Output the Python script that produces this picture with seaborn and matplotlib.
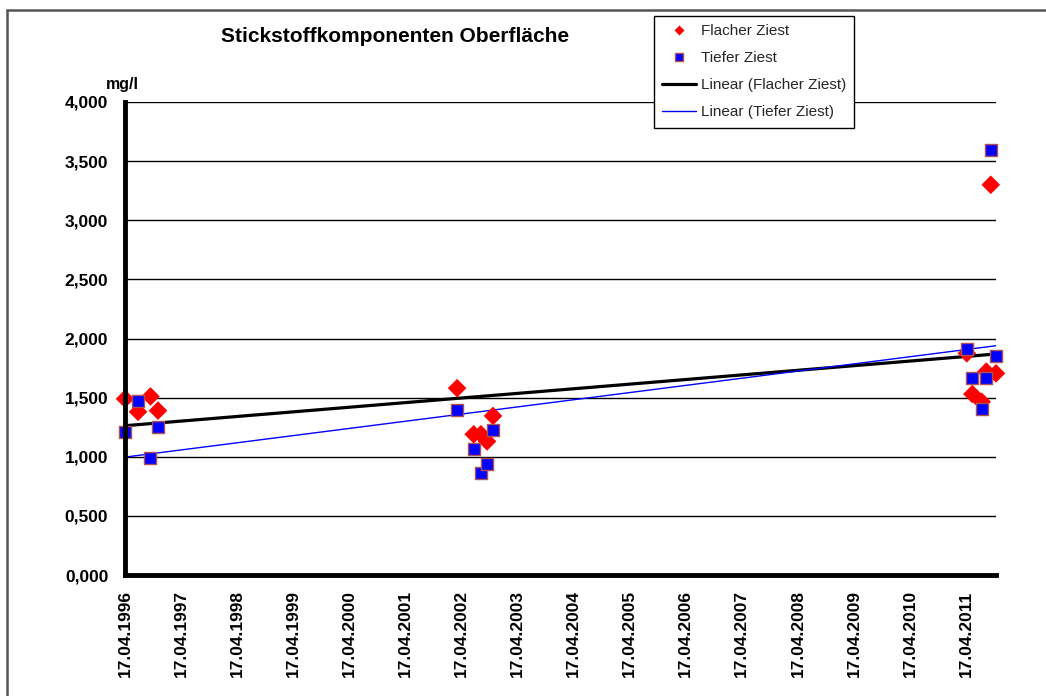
import numpy as np
import pandas as pd
import matplotlib
matplotlib.use("Agg")
import matplotlib.pyplot as plt
import matplotlib.dates as mdates
from matplotlib.lines import Line2D
import seaborn as sns

# ---- data ----
dates = ["1996-04-17", "1996-07-11", "1996-09-30", "1996-11-18",
         "2002-03-20", "2002-07-06", "2002-08-22", "2002-10-01", "2002-11-09",
         "2011-04-22", "2011-05-28", "2011-07-28", "2011-08-27", "2011-09-25", "2011-10-29"]
flacher = [1.49, 1.38, 1.51, 1.39,
           1.58, 1.19, 1.19, 1.13, 1.345,
           1.875, 1.53, 1.465, 1.72, 3.30, 1.705]
tiefer = [1.21, 1.47, 0.99, 1.25,
          1.395, 1.065, 0.86, 0.935, 1.225,
          1.915, 1.665, 1.405, 1.67, 3.595, 1.855]
tick_years = list(range(1996, 2012))
y_ticks = [0, 0.5, 1.0, 1.5, 2.0, 2.5, 3.0, 3.5, 4.0]

df = pd.DataFrame({"Datum": pd.to_datetime(dates),
                   "Flacher Ziest": flacher,
                   "Tiefer Ziest": tiefer})

# linear trend lines (like Excel's "Linear" trendline)
xnum = mdates.date2num(df["Datum"])
for col in ["Flacher Ziest", "Tiefer Ziest"]:
    k, d = np.polyfit(xnum, df[col], 1)
    df["Linear (" + col + ")"] = k * xnum + d

sns.set_theme(style="white")
plt.rcParams["font.family"] = ["Liberation Sans", "DejaVu Sans"]
plt.rcParams["font.weight"] = "bold"

W, H = 1046, 696
fig = plt.figure(figsize=(W / 100, H / 100), dpi=100)
ax = fig.add_axes([125 / W, 1 - 575 / H, (996 - 125) / W, (575 - 102) / H])

# gridlines
for v in y_ticks[1:]:
    ax.axhline(v, color="black", lw=1.0, zorder=1)

sns.lineplot(data=df, x="Datum", y="Linear (Flacher Ziest)", color="black",
             lw=2.3, ax=ax, zorder=2)
sns.lineplot(data=df, x="Datum", y="Linear (Tiefer Ziest)", color="#0000FF",
             lw=1.0, ax=ax, zorder=2)
sns.scatterplot(data=df, x="Datum", y="Flacher Ziest", marker="D", s=90,
                color="#FF0000", edgecolor="none", linewidth=0, ax=ax, zorder=3,
                clip_on=False)
sns.scatterplot(data=df, x="Datum", y="Tiefer Ziest", marker="s", s=85,
                color="#0000FF", edgecolor="#B05050", linewidth=1.0, ax=ax, zorder=4,
                clip_on=False)

ax.set_xlim(df["Datum"].iloc[0], df["Datum"].iloc[-1])
ax.set_ylim(0, 4)
ax.set_yticks(y_ticks)
ax.set_yticklabels([f"{v:.3f}".replace(".", ",") for v in y_ticks])
xt = pd.to_datetime([f"{y}-04-17" for y in tick_years])
ax.set_xticks(xt)
ax.set_xticklabels([d.strftime("%d.%m.%Y") for d in xt], rotation=90)
ax.tick_params(axis="both", direction="out", length=5, width=2.5, color="black",
               labelsize=12.5, labelcolor="black", pad=6)
ax.tick_params(axis="y", pad=7)
for lab in ax.get_xticklabels() + ax.get_yticklabels():
    lab.set_fontweight("bold")
ax.set_xlabel("")
ax.set_ylabel("")
ax.grid(False)
for s in ["top", "right"]:
    ax.spines[s].set_visible(False)
for s in ["left", "bottom"]:
    ax.spines[s].set_color("black")
    ax.spines[s].set_linewidth(3.5)
    ax.spines[s].set_zorder(5)

fig.text(395 / W, 1 - 37 / H, "Stickstoffkomponenten Oberfläche", ha="center",
         va="center", fontsize=15, fontweight="bold", color="black")
fig.text(122 / W, 1 - 85 / H, "mg/l", ha="center", va="center",
         fontsize=11.5, fontweight="bold", color="black")

# legend
handles = [
    Line2D([], [], ls="none", marker="D", ms=5, color="#FF0000", mec="none"),
    Line2D([], [], ls="none", marker="s", ms=6, color="#0000FF", mec="#B05050", mew=1),
    Line2D([], [], color="black", lw=2.3),
    Line2D([], [], color="#0000FF", lw=1.0),
]
labels = ["Flacher Ziest", "Tiefer Ziest", "Linear (Flacher Ziest)", "Linear (Tiefer Ziest)"]
leg = fig.legend(handles, labels, loc="upper left", bbox_to_anchor=(654 / W, 1 - 16 / H),
                 frameon=True, fancybox=False, edgecolor="black", framealpha=1,
                 prop={"size": 11, "weight": "normal"}, handlelength=2.2,
                 handletextpad=0.3, labelspacing=0.85, borderpad=0.55, borderaxespad=0)
leg.get_frame().set_linewidth(1.0)

# outer chart frame (left and top edges visible)
fig.add_artist(Line2D([7 / W, 7 / W], [0, 1 - 10 / H], transform=fig.transFigure,
                      color="#555555", lw=1.8))
fig.add_artist(Line2D([7 / W, 1], [1 - 10 / H, 1 - 10 / H], transform=fig.transFigure,
                      color="#555555", lw=1.8))

fig.savefig("out.png", dpi=100)
